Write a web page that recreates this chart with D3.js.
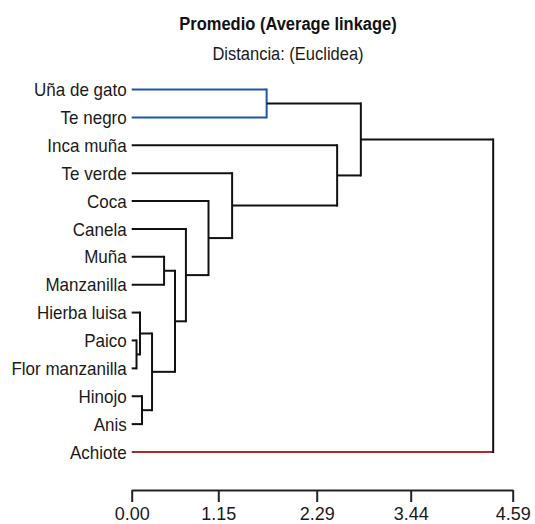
<!DOCTYPE html>
<html>
<head>
<meta charset="utf-8">
<script src="https://cdn.jsdelivr.net/npm/d3@7"></script>
<style>
  body { margin: 0; background: #fff; }
  svg { display: block; font-family: "Liberation Sans", Arial, sans-serif; }
</style>
</head>
<body>
<svg id="chart" width="535" height="524"></svg>
<script>
// leaves, top to bottom
const leaves = ["Uña de gato", "Te negro", "Inca muña", "Te verde", "Coca", "Canela", "Muña",
    "Manzanilla", "Hierba luisa", "Paico", "Flor manzanilla", "Hinojo", "Anis", "Achiote"];
// cluster of each leaf (cut at 3 groups)
const leafCluster = [1, 1, 0, 0, 0, 0, 0, 0, 0, 0, 0, 0, 0, 2];
const clusterColors = ["#111111", "#1f55a6", "#b02a2a"];

// merge steps, hclust style: negative = leaf (1-based), positive = earlier step
const mergePairs = [
    [-10, -11], [-9, 1], [-12, -13], [2, 3], [-7, -8], [5, 4], [-6, 6],
    [-5, 7], [-4, 8], [-1, -2], [-3, 9], [10, 11], [12, -14]
];
const mergeHeights = [0.064, 0.11, 0.137, 0.27, 0.43, 0.575, 0.72, 1.02, 1.31, 1.71, 2.54, 2.83, 4.37];

const tickVals = [0.00, 1.15, 2.29, 3.44, 4.59];

const svg = d3.select("#chart");

// axis spacing in the picture is uneven, so map through each tick
const x = d3.scaleLinear()
    .domain(tickVals)
    .range([131.7, 218.3, 316.7, 410.7, 512.7]);
const y = d3.scalePoint()
    .domain(leaves)
    .range([89.5, 452]);

// build nodes
const leafNodes = leaves.map((name, i) => ({
    name, h: 0, y: y(name), cluster: leafCluster[i], leaf: true
}));
const stepNodes = [];
const ref = k => k < 0 ? leafNodes[-k - 1] : stepNodes[k - 1];
mergePairs.forEach((pair, i) => {
    const a = ref(pair[0]), b = ref(pair[1]);
    stepNodes.push({
        h: mergeHeights[i],
        y: (a.y + b.y) / 2,
        cluster: a.cluster === b.cluster ? a.cluster : 0,
        children: [a, b]
    });
});

const g = svg.append("g");

// horizontal link of each child, vertical bar of each merge
stepNodes.forEach(node => {
    node.children.forEach(c => {
        // leaves keep their colour; a cluster's top link turns black
        const col = (c.leaf || c.cluster === node.cluster) ? clusterColors[c.cluster] : clusterColors[0];
        g.append("line")
            .attr("x1", x(c.h)).attr("x2", x(node.h))
            .attr("y1", c.y).attr("y2", c.y)
            .attr("stroke", col)
            .attr("stroke-width", 2);
    });
    g.append("line")
        .attr("x1", x(node.h)).attr("x2", x(node.h))
        .attr("y1", node.children[0].y - 1).attr("y2", node.children[1].y + 1)
        .attr("stroke", clusterColors[node.cluster])
        .attr("stroke-width", 2);
});

// leaf labels
svg.append("g").selectAll("text")
    .data(leaves)
    .enter().append("text")
    .attr("transform", d => `translate(${x(0) - 5},${y(d)}) scale(1,1.08)`)
    .attr("dy", "0.36em")
    .attr("text-anchor", "end")
    .attr("font-size", "17px")
    .attr("fill", "#1a1a1a")
    .text(d => d);

// axis
const axis = svg.append("g")
    .attr("transform", "translate(0,490)")
    .call(d3.axisBottom(x)
        .tickValues(tickVals)
        .tickFormat(d3.format(".2f"))
        .tickSize(12)
        .tickSizeOuter(0)
        .tickPadding(5));
axis.select(".domain").attr("stroke", "#222").attr("stroke-width", 2);
axis.selectAll(".tick line").attr("stroke", "#222").attr("stroke-width", 2);
axis.selectAll(".tick text")
    .attr("font-size", "18px")
    .attr("font-family", "Liberation Sans, Arial, sans-serif")
    .attr("fill", "#1a1a1a");

// titles
svg.append("text")
    .attr("transform", "translate(288,30) scale(1,1.1)")
    .attr("text-anchor", "middle")
    .attr("font-size", "16.5px")
    .attr("font-weight", "bold")
    .attr("fill", "#111")
    .text("Promedio (Average linkage)");
svg.append("text")
    .attr("transform", "translate(288,60) scale(1,1.1)")
    .attr("text-anchor", "middle")
    .attr("font-size", "16.5px")
    .attr("fill", "#1a1a1a")
    .text("Distancia: (Euclidea)");
</script>
</body>
</html>
